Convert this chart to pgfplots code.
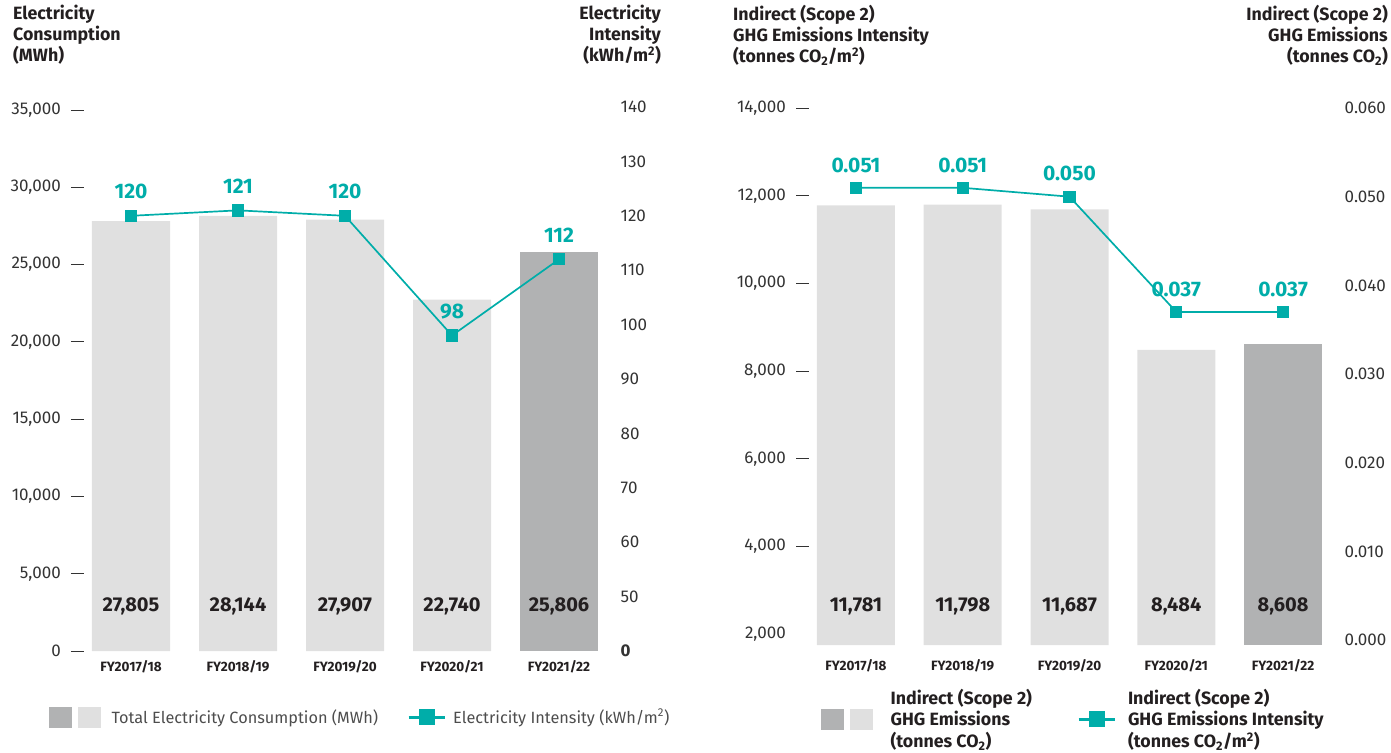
\documentclass[border=0pt]{standalone}
\usepackage{fontspec}
\setmainfont{Fira Sans}
\usepackage{pgfplots}
\pgfplotsset{compat=1.18}
\definecolor{tealc}{HTML}{00ADA9}
\definecolor{barL}{HTML}{E0E0E0}
\definecolor{barD}{HTML}{B1B2B3}
\definecolor{txt}{HTML}{231F20}
\definecolor{tickc}{HTML}{333333}
\definecolor{leggray}{HTML}{4D4D4D}
\pgfkeys{/pgf/number format/.cd, assume math mode=true, 1000 sep={,}}
\newcommand{\titlefont}{\fontsize{17.8}{21}\selectfont\bfseries}
\pgfplotsset{
  base/.style={scale only axis, xmin=-0.5, xmax=4.5, axis line style={draw=none}, clip=false,
    /pgf/number format/assume math mode=true, scaled y ticks=false},
  barsaxis/.style={base, axis y line*=left, axis x line*=bottom,
    xtick={0,...,4}, xticklabels={FY2017/18,FY2018/19,FY2019/20,FY2020/21,FY2021/22},
    x tick style={draw=none}, y tick style={draw=tickc, line width=0.9pt},
    major tick length=13pt, tick align=center,
    xticklabel style={font=\fontsize{13.5}{15}\selectfont\bfseries, text=txt, inner sep=0pt, anchor=north},
    yticklabel style={font=\fontsize{17}{19}\selectfont, text=tickc, inner sep=0pt, anchor=east, xshift=-10pt}},
  lineaxis/.style={base, axis y line*=right, axis x line=none, major tick length=0pt,
    yticklabel style={font=\fontsize{17}{19}\selectfont, text=tickc, inner sep=0pt, anchor=west, xshift=8pt}},
  barplot/.style={ybar, bar width=78pt, bar shift=0pt, draw=none},
  labelplot/.style={draw=none, mark=none, nodes near coords, point meta=explicit symbolic,
    every node near coord/.style={anchor=center, inner sep=0pt, font=\fontsize{20}{22}\selectfont\bfseries, text=txt}},
  barlegend/.style={legend image code/.code={\fill[barD] (0pt,-10pt) rectangle (22pt,10pt); \fill[barL] (29pt,-10pt) rectangle (51pt,10pt);}},
  linelegend/.style={legend image code/.code={\draw[tealc, line width=3pt, mark=square*, mark size=6.5pt, mark repeat=2, mark phase=2, mark options={solid}] plot coordinates {(0pt,0pt) (18pt,0pt) (36pt,0pt)};}},
}
\begin{document}
\begin{tikzpicture}[x=1pt,y=1pt]
\useasboundingbox (0pt,0pt) rectangle (1391pt,-752pt);

% ---------- Left panel: bars ----------
\begin{axis}[barsaxis, at={(77.5pt,-651pt)}, anchor=south west, width=535pt, height=541pt,
  ymin=0, ymax=35000, ytick={0,5000,...,35000},
  xticklabel style={yshift=-3pt}]
\addplot[barplot, fill=barL] coordinates {(0,27805) (1,28144) (2,27907) (3,22740)};
\addplot[barplot, fill=barD] coordinates {(4,25806)};
\addplot[labelplot] coordinates {(0,2911)[27,805] (1,2911)[28,144] (2,2911)[27,907] (3,2911)[22,740] (4,2911)[25,806]};
\end{axis}

% ---------- Left panel: line ----------
\begin{axis}[lineaxis, at={(77.5pt,-651pt)}, anchor=south west, width=535pt, height=544pt,
  ymin=40, ymax=140, ytick={40,50,...,140},
  yticklabels={\textbf{0},50,60,70,80,90,100,110,120,130,140},
  legend columns=2,
  legend style={at={(-0.0533,-0.1213)}, anchor=west, draw=none, fill=none, inner sep=0pt,
    font=\fontsize{16.3}{19}\selectfont, text=leggray, nodes={inner sep=0pt},
    /tikz/column 1/.style={column sep=11pt}, /tikz/column 2/.style={column sep=29pt},
    /tikz/column 3/.style={column sep=7pt}}]
\addplot[tealc, line width=1.7pt, mark=square*, mark size=5.3pt, forget plot,
  nodes near coords, every node near coord/.style={anchor=south, inner sep=0pt, yshift=16pt,
  font=\fontsize{21}{23}\selectfont\bfseries, text=tealc}]
  coordinates {(0,120) (1,121) (2,120) (3,98) (4,112)};
\addlegendimage{barlegend}
\addlegendentry{Total Electricity Consumption (MWh)}
\addlegendimage{linelegend}
\addlegendentry{Electricity Intensity (kWh/m\textsuperscript{2})}
\end{axis}

% ---------- Right panel: bars ----------
\begin{axis}[barsaxis, at={(802.5pt,-645pt)}, anchor=south west, width=534pt, height=537pt,
  ymin=1749, ymax=14000, ytick={4000,6000,...,14000},
  extra y ticks={2000}, extra y tick style={major tick length=0pt, yticklabel style={xshift=-6.5pt}},
  xticklabel style={yshift=-8pt}]
\addplot[barplot, fill=barL] coordinates {(0,11781) (1,11798) (2,11687) (3,8484)};
\addplot[barplot, fill=barD] coordinates {(4,8608)};
\addplot[labelplot] coordinates {(0,2639)[11,781] (1,2639)[11,798] (2,2639)[11,687] (3,2639)[8,484] (4,2639)[8,608]};
\end{axis}

% ---------- Right panel: line ----------
\begin{axis}[lineaxis, at={(802.5pt,-640pt)}, anchor=south west, width=534pt, height=532pt,
  ymin=0, ymax=0.06, ytick={0,0.01,...,0.06},
  yticklabel={\pgfmathprintnumber[fixed, fixed zerofill, precision=3]{\tick}},
  legend columns=2,
  legend style={at={(0.0346,-0.1485)}, anchor=west, draw=none, fill=none, inner sep=0pt,
    font=\fontsize{17.8}{21.5}\selectfont\bfseries, text=txt, nodes={inner sep=0pt},
    cells={align=left},
    /tikz/column 1/.style={column sep=18pt}, /tikz/column 2/.style={column sep=45pt},
    /tikz/column 3/.style={column sep=12pt}}]
\addplot[tealc, line width=1.7pt, mark=square*, mark size=5.3pt, forget plot,
  nodes near coords={\pgfmathprintnumber[fixed, fixed zerofill, precision=3]{\pgfplotspointmeta}},
  every node near coord/.style={anchor=south, inner sep=0pt, yshift=14.5pt,
  font=\fontsize{21}{23}\selectfont\bfseries, text=tealc}]
  coordinates {(0,0.051) (1,0.051) (2,0.050) (3,0.037) (4,0.037)};
\addlegendimage{barlegend}
\addlegendentry{Indirect (Scope 2)\\GHG Emissions\\(tonnes CO\textsubscript{2})}
\addlegendimage{linelegend}
\addlegendentry{Indirect (Scope 2)\\GHG Emissions Intensity\\(tonnes CO\textsubscript{2}/m\textsuperscript{2})}
\end{axis}

% ---------- Titles ----------
\node[anchor=north west, align=left, inner sep=0pt, font=\titlefont, text=txt] at (13pt,-5pt) {Electricity\\Consumption\\(MWh)};
\node[anchor=north east, align=right, inner sep=0pt, font=\titlefont, text=txt] at (661pt,-5pt) {Electricity\\Intensity\\(kWh/m\textsuperscript{2})};
\node[anchor=north west, align=left, inner sep=0pt, font=\titlefont, text=txt] at (733pt,-5pt) {Indirect (Scope 2)\\GHG Emissions Intensity\\(tonnes CO\textsubscript{2}/m\textsuperscript{2})};
\node[anchor=north east, align=right, inner sep=0pt, font=\titlefont, text=txt] at (1388pt,-5pt) {Indirect (Scope 2)\\GHG Emissions\\(tonnes CO\textsubscript{2})};
\end{tikzpicture}
\end{document}
